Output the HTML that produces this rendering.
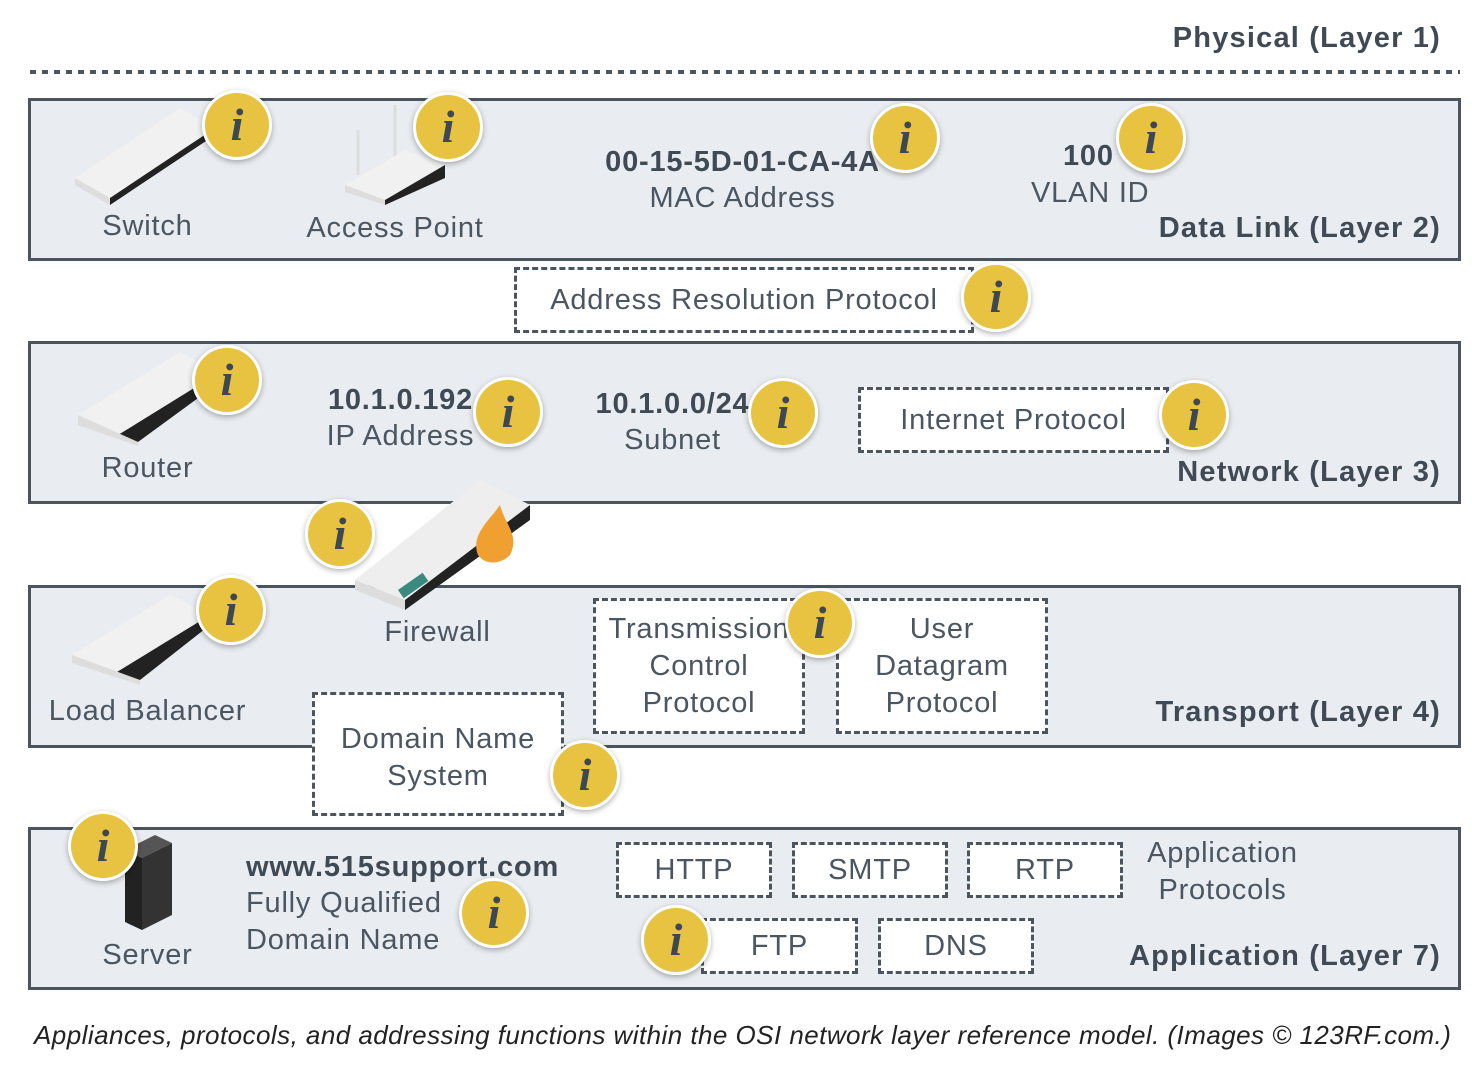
<!DOCTYPE html>
<html><head><style>
body{margin:0;width:1472px;height:1082px;background:#fff;position:relative;overflow:hidden;font-family:"Liberation Sans",sans-serif;color:#46525c}
.a{position:absolute}
.band{position:absolute;left:28px;width:1427px;height:157px;background:#e9ecf0;border:3px solid #4a5560}
.t{position:absolute;font-size:29px;white-space:nowrap;color:#4a5661;letter-spacing:0.8px}
.c{text-align:center}
.b{font-weight:bold;color:#3f4a54}
.d{position:absolute;border:3px dashed #4a5560;background:#fff;box-sizing:border-box;font-size:29px;text-align:center;color:#4a5661;line-height:37px;letter-spacing:0.8px}
.i{position:absolute;width:64px;height:64px;border-radius:50%;background:#e8c342;border:3px solid #fff;box-shadow:0 2px 6px rgba(0,0,0,.3);color:#3e4852;font:italic bold 46px "Liberation Serif",serif;text-align:center;line-height:64px;box-sizing:content-box}
</style></head><body>
<div class="t b" style="right:31px;top:22px;letter-spacing:1.2px">Physical (Layer 1)</div>
<svg class="a" style="left:0;top:0" width="1472" height="80"><line x1="30" y1="72" x2="1460" y2="72" stroke="#4a5560" stroke-width="4" stroke-dasharray="6 6"/></svg>

<div class="band" style="top:98px"></div>
<div class="band" style="top:341px"></div>
<div class="band" style="top:585px"></div>
<div class="band" style="top:827px"></div>

<svg class="a" style="left:0;top:0" width="1472" height="1082">
<g><polygon points="75,178 180,108 215,128 110,198" fill="#f1f1f1"/><polygon points="75,178 110,198 110,205 75,185" fill="#ddd"/><polygon points="110,198 215,128 215,135 110,205" fill="#222"/></g>
<g><line x1="358" y1="130" x2="358" y2="175" stroke="#ddd" stroke-width="3"/><line x1="395" y1="105" x2="395" y2="160" stroke="#ddd" stroke-width="3"/><polygon points="345,185 405,150 445,165 385,200" fill="#f1f1f1"/><polygon points="385,200 445,165 445,178 385,205" fill="#222"/><polygon points="345,185 385,200 385,205 345,192" fill="#ddd"/></g>
<g><polygon points="78,415 180,352 220,372 118,435" fill="#f1f1f1"/><polygon points="118,435 220,372 220,382 138,442" fill="#222"/><polygon points="78,415 138,442 138,446 78,425" fill="#ddd"/></g>
<g><polygon points="355,580 480,480 530,505 405,600" fill="#eee"/><polygon points="405,600 530,505 530,520 405,610" fill="#222"/><polygon points="355,580 405,600 405,610 355,590" fill="#ddd"/><path d="M478,555 C470,535 490,520 500,505 C505,525 520,535 510,555 C500,565 485,565 478,555Z" fill="#f0a030"/><rect x="398" y="590" width="30" height="10" fill="#3a8a80" transform="rotate(-35 398 590)"/></g>
<g><polygon points="72,655 170,595 210,615 112,675" fill="#f1f1f1"/><polygon points="112,675 210,615 210,625 140,680" fill="#222"/><polygon points="72,655 140,680 140,685 72,663" fill="#ddd"/></g>
<g><polygon points="125,850 155,835 172,843 142,858" fill="#555"/><polygon points="125,850 142,858 142,930 125,922" fill="#222"/><polygon points="142,858 172,843 172,915 142,930" fill="#333"/></g>
</svg>

<div class="t c" style="left:80px;width:135px;top:210px">Switch</div>
<div class="t c" style="left:290px;width:210px;top:212px">Access Point</div>
<div class="t c b" style="left:600px;width:285px;top:146px">00-15-5D-01-CA-4A</div>
<div class="t c" style="left:600px;width:285px;top:182px">MAC Address</div>
<div class="t b" style="left:1063px;top:140px">100</div>
<div class="t" style="left:1031px;top:177px">VLAN ID</div>
<div class="t b" style="right:31px;top:212px;letter-spacing:1.2px">Data Link (Layer 2)</div>

<div class="d" style="left:514px;top:267px;width:460px;height:66px;line-height:60px">Address Resolution Protocol</div>

<div class="t c" style="left:80px;width:135px;top:452px">Router</div>
<div class="t c b" style="left:318px;width:165px;top:384px">10.1.0.192</div>
<div class="t c" style="left:318px;width:165px;top:420px">IP Address</div>
<div class="t c b" style="left:590px;width:165px;top:388px">10.1.0.0/24</div>
<div class="t c" style="left:590px;width:165px;top:424px">Subnet</div>
<div class="d" style="left:858px;top:387px;width:311px;height:66px;line-height:60px">Internet Protocol</div>
<div class="t b" style="right:31px;top:456px;letter-spacing:1.2px">Network (Layer 3)</div>

<div class="t c" style="left:370px;width:135px;top:616px">Firewall</div>
<div class="t c" style="left:40px;width:215px;top:695px">Load Balancer</div>
<div class="d" style="left:593px;top:598px;width:212px;height:136px;padding-top:10px">Transmission<br>Control<br>Protocol</div>
<div class="d" style="left:836px;top:598px;width:212px;height:136px;padding-top:10px">User<br>Datagram<br>Protocol</div>
<div class="t b" style="right:31px;top:696px;letter-spacing:1.2px">Transport (Layer 4)</div>
<div class="d" style="left:312px;top:692px;width:252px;height:124px;padding-top:26px">Domain Name<br>System</div>

<div class="t c" style="left:80px;width:135px;top:939px">Server</div>
<div class="t b" style="left:246px;top:851px">www.515support.com</div>
<div class="t" style="left:246px;top:887px">Fully Qualified</div>
<div class="t" style="left:246px;top:924px">Domain Name</div>
<div class="d" style="left:616px;top:842px;width:156px;height:56px;line-height:50px">HTTP</div>
<div class="d" style="left:792px;top:842px;width:156px;height:56px;line-height:50px">SMTP</div>
<div class="d" style="left:967px;top:842px;width:156px;height:56px;line-height:50px">RTP</div>
<div class="d" style="left:701px;top:918px;width:157px;height:56px;line-height:50px">FTP</div>
<div class="d" style="left:878px;top:918px;width:156px;height:56px;line-height:50px">DNS</div>
<div class="t c" style="left:1130px;width:185px;top:837px">Application</div>
<div class="t c" style="left:1130px;width:185px;top:874px">Protocols</div>
<div class="t b" style="right:31px;top:940px;letter-spacing:1.2px">Application (Layer 7)</div>

<div class="i" style="left:202px;top:90px">i</div>
<div class="i" style="left:413px;top:92px">i</div>
<div class="i" style="left:870px;top:103px">i</div>
<div class="i" style="left:1116px;top:103px">i</div>
<div class="i" style="left:961px;top:262px">i</div>
<div class="i" style="left:192px;top:345px">i</div>
<div class="i" style="left:473px;top:377px">i</div>
<div class="i" style="left:748px;top:378px">i</div>
<div class="i" style="left:1159px;top:380px">i</div>
<div class="i" style="left:305px;top:499px">i</div>
<div class="i" style="left:196px;top:575px">i</div>
<div class="i" style="left:785px;top:588px">i</div>
<div class="i" style="left:550px;top:740px">i</div>
<div class="i" style="left:68px;top:811px">i</div>
<div class="i" style="left:459px;top:878px">i</div>
<div class="i" style="left:641px;top:905px">i</div>

<div class="t" style="left:34px;top:1020px;font-size:26px;font-style:italic;color:#222;letter-spacing:0.45px">Appliances, protocols, and addressing functions within the OSI network layer reference model. (Images © 123RF.com.)</div>
</body></html>
